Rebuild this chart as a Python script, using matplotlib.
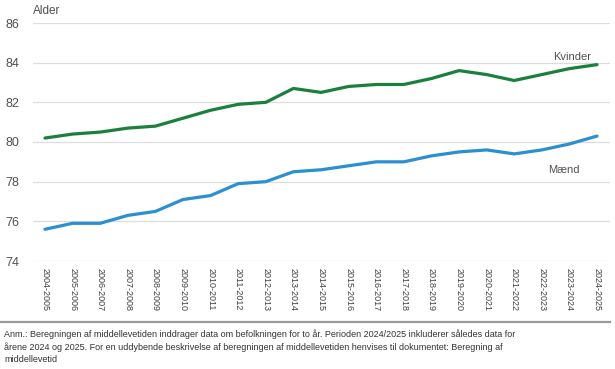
import matplotlib
matplotlib.use("Agg")
import matplotlib.pyplot as plt

periods = ["2004-2005", "2005-2006", "2006-2007", "2007-2008", "2008-2009",
           "2009-2010", "2010-2011", "2011-2012", "2012-2013", "2013-2014",
           "2014-2015", "2015-2016", "2016-2017", "2017-2018", "2018-2019",
           "2019-2020", "2020-2021", "2021-2022", "2022-2023", "2023-2024",
           "2024-2025"]
kvinder = [80.2, 80.4, 80.5, 80.7, 80.8, 81.2, 81.6, 81.9, 82.0, 82.7, 82.5,
           82.8, 82.9, 82.9, 83.2, 83.6, 83.4, 83.1, 83.4, 83.7, 83.9]
maend = [75.6, 75.9, 75.9, 76.3, 76.5, 77.1, 77.3, 77.9, 78.0, 78.5, 78.6,
         78.8, 79.0, 79.0, 79.3, 79.5, 79.6, 79.4, 79.6, 79.9, 80.3]
yticks = [74, 76, 78, 80, 82, 84, 86]

plt.rcParams['font.family'] = ['Liberation Sans', 'DejaVu Sans']
TXT = '#505050'

fig = plt.figure(figsize=(6.15, 3.69), dpi=100)
ax = fig.add_axes([33/615, 1-261/369, (610-33)/615, (261-23)/369])

x = list(range(len(periods)))
ax.plot(x, kvinder, color='#1b7f3e', lw=2.3, solid_capstyle='round', zorder=3)
ax.plot(x, maend, color='#2b8fd0', lw=2.3, solid_capstyle='round', zorder=3)

ax.set_ylim(74, 86)
ax.set_xlim(-12/27.6, 20 + 13/27.6)
ax.set_yticks(yticks)
ax.set_yticklabels([str(v) for v in yticks], fontsize=9, color=TXT)
ax.set_xticks(x)
ax.set_xticklabels(periods, rotation=-90, fontsize=6.5, color='#404040', va='top', ha='center')
ax.tick_params(axis='both', length=0)
ax.tick_params(axis='y', pad=10)
ax.tick_params(axis='x', pad=5)
for s in ax.spines.values():
    s.set_visible(False)
ax.grid(axis='y', color='#dddddd', lw=0.9)
ax.set_axisbelow(True)

fig.text(33/615, 1-14/369, "Alder", fontsize=8.5, color=TXT, va='baseline', ha='left')
ax.text(19.8, 84.15, "Kvinder", fontsize=8, color=TXT, ha='right', va='baseline')
ax.text(18.8, 78.45, "Mænd", fontsize=8, color=TXT, ha='center', va='baseline')

fig.add_artist(plt.Line2D([0, 610/615], [1-322/369, 1-322/369], color='#999999', lw=1.6,
                          transform=fig.transFigure))

note = ("Anm.: Beregningen af middellevetiden inddrager data om befolkningen for to år. Perioden 2024/2025 inkluderer således data for\n"
        "årene 2024 og 2025. For en uddybende beskrivelse af beregningen af middellevetiden henvises til dokumentet: Beregning af\n"
        "middellevetid")
fig.text(4/615, 1-329/369, note, fontsize=6.5, color='#333333', va='top', ha='left', linespacing=1.42)

fig.savefig("out.png", dpi=100)
